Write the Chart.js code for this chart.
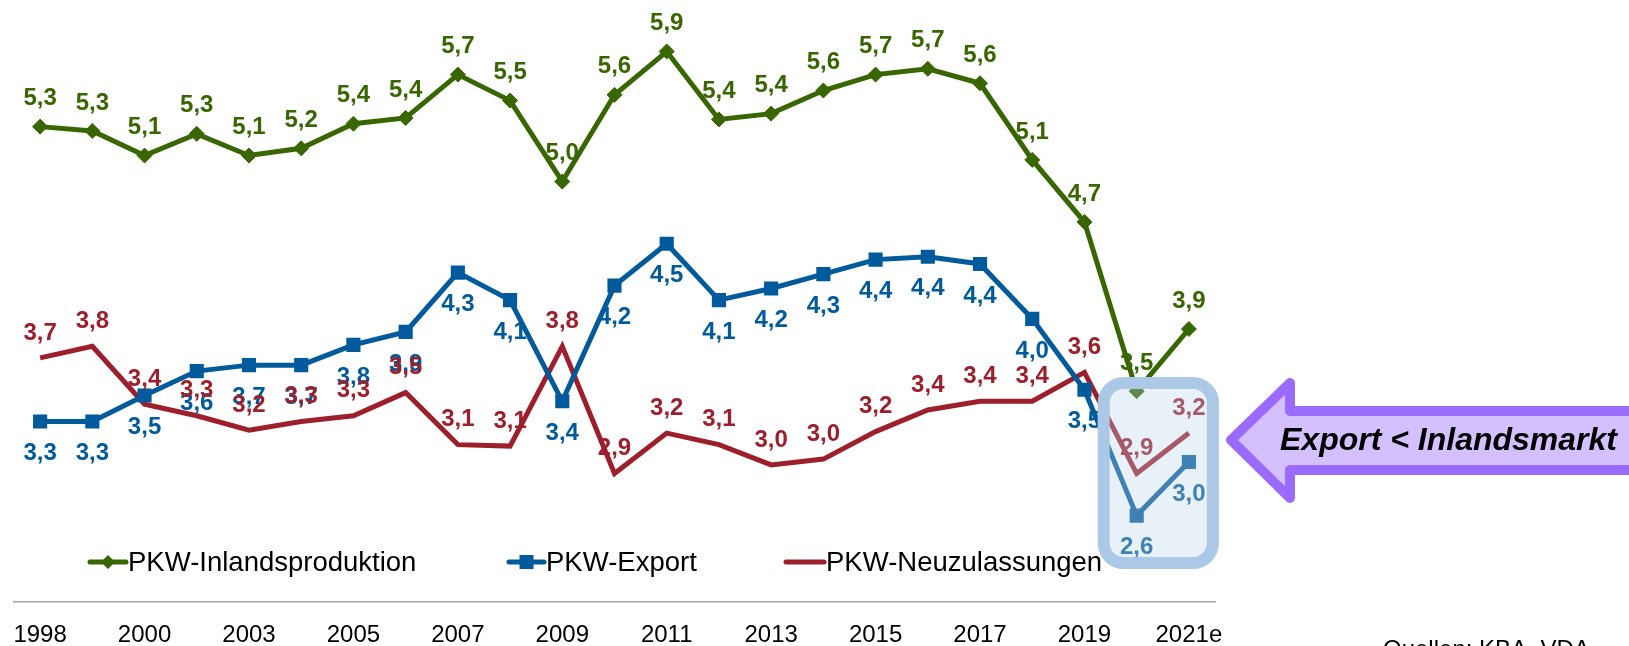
<!DOCTYPE html>
<html>
<head>
<meta charset="utf-8">
<title>PKW - Inlandsproduktion, Export, Neuzulassungen</title>
<style>
  body { margin: 0; background: #fff; }
  .chart-container { width: 1629px; height: 646px; position: relative; }
</style>
</head>
<body>
<div class="chart-container">
  <canvas id="mycanvas"></canvas>
</div>
<script src="https://cdn.jsdelivr.net/npm/chart.js@4.4.0/dist/chart.umd.min.js"></script>
<script>
// Mio. Pkw, gelesen aus der Vorlage
var years = ['1998', '1999', '2000', '2001', '2003', '2004', '2005', '2006', '2007', '2008', '2009', '2010',
             '2011', '2012', '2013', '2014', '2015', '2016', '2017', '2018', '2019', '2020', '2021e'];
var produktion = [5.34, 5.31, 5.14, 5.29, 5.14, 5.19, 5.36, 5.40, 5.70, 5.52, 4.96, 5.56,
                  5.86, 5.39, 5.43, 5.59, 5.70, 5.74, 5.64, 5.11, 4.68, 3.51, 3.94];
var exportPkw = [3.30, 3.30, 3.48, 3.649, 3.69, 3.69, 3.83, 3.92, 4.33, 4.14, 3.44, 4.24,
                 4.53, 4.14, 4.22, 4.32, 4.42, 4.44, 4.39, 4.01, 3.52, 2.649, 3.02];
var neuzulassungen = [3.74, 3.82, 3.42, 3.34, 3.24, 3.30, 3.34, 3.50, 3.14, 3.13, 3.82, 2.94,
                      3.22, 3.14, 3.00, 3.04, 3.23, 3.38, 3.44, 3.44, 3.64, 2.94, 3.22];
var seriesNames = ['PKW-Inlandsproduktion', 'PKW-Export', 'PKW-Neuzulassungen'];
var highlightFrom = 21; // 2020 und 2021e im Kasten
var calloutText = 'Export < Inlandsmarkt';
var sourceText = 'Quellen: KBA, VDA';

var GREEN = '#386600';
var BLUE = '#005a9c';
var RED = '#9c1f2b';
var FONT = '"Liberation Sans", Arial, sans-serif';

function fmt(v) {
  return v.toFixed(1).replace('.', ',');
}

// Werte-Beschriftungen an den Punkten
var valueLabels = {
  id: 'valueLabels',
  afterDatasetsDraw: function(chart) {
    var ctx = chart.ctx;
    ctx.save();
    ctx.font = 'bold 24px ' + FONT;
    ctx.textAlign = 'center';
    ctx.textBaseline = 'middle';
    chart.data.datasets.forEach(function(ds, i) {
      var meta = chart.getDatasetMeta(i);
      ctx.fillStyle = ds.borderColor;
      meta.data.forEach(function(pt, j) {
        ctx.fillText(fmt(ds.data[j]), pt.x, pt.y + ds.labelOffset);
      });
    });
    ctx.restore();
  }
};

function roundRect(ctx, x, y, w, h, r) {
  ctx.beginPath();
  ctx.moveTo(x + r, y);
  ctx.lineTo(x + w - r, y);
  ctx.arcTo(x + w, y, x + w, y + r, r);
  ctx.lineTo(x + w, y + h - r);
  ctx.arcTo(x + w, y + h, x + w - r, y + h, r);
  ctx.lineTo(x + r, y + h);
  ctx.arcTo(x, y + h, x, y + h - r, r);
  ctx.lineTo(x, y + r);
  ctx.arcTo(x, y, x + r, y, r);
  ctx.closePath();
}

// Kasten, Pfeil, Legende, Quelle
var extras = {
  id: 'extras',
  afterDraw: function(chart) {
    var ctx = chart.ctx;
    var xs = chart.scales.x;
    var x0 = xs.getPixelForValue(highlightFrom);
    var x1 = xs.getPixelForValue(years.length - 1);

    // highlight box
    ctx.save();
    roundRect(ctx, x0 - 33, 383, (x1 + 24) - (x0 - 33), 180, 20);
    ctx.fillStyle = 'rgba(185, 210, 235, 0.33)';
    ctx.fill();
    ctx.lineWidth = 12;
    ctx.strokeStyle = '#abc8e6';
    ctx.stroke();
    ctx.restore();

    // arrow
    ctx.save();
    ctx.beginPath();
    ctx.moveTo(1231, 440);
    ctx.lineTo(1290, 383);
    ctx.lineTo(1290, 411);
    ctx.lineTo(1645, 411);
    ctx.lineTo(1645, 470);
    ctx.lineTo(1290, 470);
    ctx.lineTo(1290, 498);
    ctx.closePath();
    ctx.fillStyle = '#d4c0ff';
    ctx.fill();
    ctx.lineWidth = 10;
    ctx.lineJoin = 'round';
    ctx.strokeStyle = '#9b6bff';
    ctx.stroke();
    ctx.font = 'italic bold 32px ' + FONT;
    ctx.fillStyle = '#000';
    ctx.textBaseline = 'middle';
    ctx.fillText(calloutText, 1280, 441);
    ctx.restore();

    // legend
    var items = [
      {x: 88, w: 40, ds: chart.data.datasets[0]},
      {x: 507, w: 39, ds: chart.data.datasets[1]},
      {x: 784, w: 42, ds: chart.data.datasets[2]}
    ];
    ctx.save();
    items.forEach(function(it) {
      var y = 562;
      ctx.strokeStyle = it.ds.borderColor;
      ctx.lineWidth = 5;
      ctx.lineCap = 'round';
      ctx.beginPath();
      ctx.moveTo(it.x + 2, y);
      ctx.lineTo(it.x + it.w - 2, y);
      ctx.stroke();
      var cx = it.x + it.w / 2;
      ctx.fillStyle = it.ds.borderColor;
      if (it.ds.pointStyle === 'rectRot') {
        ctx.beginPath();
        ctx.moveTo(cx - 7, y);
        ctx.lineTo(cx, y - 7);
        ctx.lineTo(cx + 7, y);
        ctx.lineTo(cx, y + 7);
        ctx.closePath();
        ctx.fill();
      } else if (it.ds.pointStyle === 'rect') {
        ctx.fillRect(cx - 7, y - 7, 14, 14);
      }
      ctx.font = '27.5px ' + FONT;
      ctx.fillStyle = '#000';
      ctx.textBaseline = 'middle';
      ctx.fillText(it.ds.label, it.x + it.w, y + 1);
    });
    ctx.font = '24px ' + FONT;
    ctx.textBaseline = 'alphabetic';
    ctx.fillText(sourceText, 1383, 657);
    ctx.restore();
  }
};

var ctx = document.getElementById('mycanvas');

var LineGraph = new Chart(ctx, {
  type: 'line',
  data: {
    labels: years,
    datasets: [
      {
        label: seriesNames[0],
        data: produktion,
        borderColor: GREEN,
        backgroundColor: GREEN,
        borderWidth: 5,
        pointStyle: 'rectRot',
        pointRadius: 7.5,
        pointBorderWidth: 1,
        labelOffset: -28
      },
      {
        label: seriesNames[1],
        data: exportPkw,
        borderColor: BLUE,
        backgroundColor: BLUE,
        borderWidth: 5,
        pointStyle: 'rect',
        pointRadius: 10,
        pointBorderWidth: 0,
        labelOffset: 32
      },
      {
        label: seriesNames[2],
        data: neuzulassungen,
        borderColor: RED,
        backgroundColor: RED,
        borderWidth: 5,
        pointRadius: 0,
        labelOffset: -25
      }
    ]
  },
  options: {
    responsive: true,
    maintainAspectRatio: false,
    animation: false,
    layout: { padding: { left: 14, right: 414, top: 24, bottom: -15 } },
    elements: { line: { tension: 0, borderJoinStyle: 'miter' } },
    plugins: {
      legend: { display: false },
      tooltip: { enabled: false }
    },
    scales: {
      x: {
        offset: true,
        grid: { display: false },
        border: { display: true, color: '#a6a6a6', width: 1.5 },
        ticks: {
          autoSkip: false,
          maxRotation: 0,
          padding: 11,
          color: '#000',
          font: { family: FONT, size: 24 },
          callback: function(val, idx) {
            return idx % 2 === 0 ? this.getLabelForValue(val) : '';
          }
        }
      },
      y: {
        display: false,
        min: 2.05,
        max: 6.05
      }
    }
  },
  plugins: [valueLabels, extras]
});
</script>
</body>
</html>
